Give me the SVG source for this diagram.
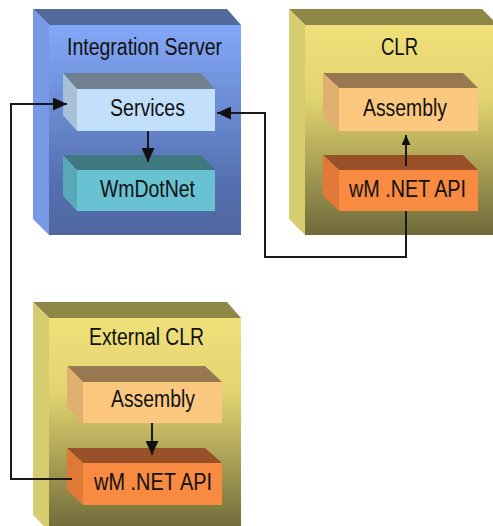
<svg xmlns="http://www.w3.org/2000/svg" width="493" height="526" viewBox="0 0 493 526">
<style>
  text { font-family: "Liberation Sans", Arial, sans-serif; font-size: 23px; fill: #111; text-anchor: middle; }
  .conn { fill: none; stroke: #1a1a1a; stroke-width: 2; }
  .isTop { fill: #52699b; } .isLeft { fill: #7898e6; }
  .clrTop { fill: #8e8848; } .clrLeft { fill: #d8cc70; }
  .svcTop { fill: #708090; } .svcLeft { fill: #a8c0d8; } .svcFront { fill: #c2e0fc; }
  .wdnTop { fill: #407880; } .wdnLeft { fill: #58a8b8; } .wdnFront { fill: #68c2d2; }
  .asmTop { fill: #987850; } .asmLeft { fill: #e0b070; } .asmFront { fill: #fcc880; }
  .apiTop { fill: #985028; } .apiLeft { fill: #e07838; } .apiFront { fill: #f88a42; }
</style>
<defs>
  <linearGradient id="gIS" x1="0" y1="0" x2="0" y2="1">
    <stop offset="0" stop-color="#84a8f8"/>
    <stop offset="0.75" stop-color="#5470b0"/>
    <stop offset="1" stop-color="#50679f"/>
  </linearGradient>
  <linearGradient id="gCLR" x1="0" y1="0" x2="0" y2="1">
    <stop offset="0" stop-color="#f0e07a"/>
    <stop offset="0.35" stop-color="#e2d470"/>
    <stop offset="1" stop-color="#6e6a3a"/>
  </linearGradient>
  <marker id="arr" markerUnits="userSpaceOnUse" markerWidth="14" markerHeight="13" refX="14" refY="6.5" orient="auto">
    <path d="M0,0 L14,6.5 L0,13 z" fill="#111"/>
  </marker>
  <marker id="arrS" markerUnits="userSpaceOnUse" markerWidth="10" markerHeight="9" refX="10" refY="4.5" orient="auto">
    <path d="M0,0 L10,4.5 L0,9 z" fill="#111"/>
  </marker>
</defs>

<g id="integration-server">
  <polygon class="isTop" points="33,9 227,9 241,25 49,25"/>
  <polygon class="isLeft" points="33,9 49,25 49,235 33,219"/>
  <rect x="49" y="25" width="192" height="210" fill="url(#gIS)"/>
  <text x="144.5" y="55" textLength="155" lengthAdjust="spacingAndGlyphs">Integration Server</text>
</g>
<g id="clr">
  <polygon class="clrTop" points="289,9 482,9 498,25 305,25"/>
  <polygon class="clrLeft" points="289,9 305,25 305,235 289,219"/>
  <rect x="305" y="25" width="193" height="210" fill="url(#gCLR)"/>
  <text x="399.5" y="55" textLength="37" lengthAdjust="spacingAndGlyphs">CLR</text>
</g>
<g id="external-clr">
  <polygon class="clrTop" points="33,302 227,302 241,318 49,318"/>
  <polygon class="clrLeft" points="33,302 49,318 49,531 33,515"/>
  <rect x="49" y="318" width="192" height="213" fill="url(#gCLR)"/>
  <text x="146.5" y="345" textLength="115" lengthAdjust="spacingAndGlyphs">External CLR</text>
</g>

<g id="services">
  <polygon class="svcTop" points="63,73 201,73 215,89 77,89"/>
  <polygon class="svcLeft" points="63,73 77,89 77,131 63,115"/>
  <rect class="svcFront" x="77" y="89" width="138" height="42"/>
  <text x="147.5" y="116" textLength="75" lengthAdjust="spacingAndGlyphs">Services</text>
</g>
<g id="wmdotnet">
  <polygon class="wdnTop" points="63,155 201,155 215,170 77,170"/>
  <polygon class="wdnLeft" points="63,155 77,170 77,211 63,196"/>
  <rect class="wdnFront" x="77" y="170" width="138" height="41"/>
  <text x="147.5" y="197" textLength="95" lengthAdjust="spacingAndGlyphs">WmDotNet</text>
</g>
<g id="clr-assembly">
  <polygon class="asmTop" points="323,73 463,73 478,88 339,88"/>
  <polygon class="asmLeft" points="323,73 339,88 339,131 323,116"/>
  <rect class="asmFront" x="339" y="88" width="139" height="43"/>
  <text x="405" y="116" textLength="84" lengthAdjust="spacingAndGlyphs">Assembly</text>
</g>
<g id="clr-api">
  <polygon class="apiTop" points="323,155 463,155 478,170 339,170"/>
  <polygon class="apiLeft" points="323,155 339,170 339,211 323,196"/>
  <rect class="apiFront" x="339" y="170" width="139" height="41"/>
  <text x="407.5" y="197" textLength="117" lengthAdjust="spacingAndGlyphs">wM .NET API</text>
</g>
<g id="ext-assembly">
  <polygon class="asmTop" points="67,366 205,366 222,382 83,382"/>
  <polygon class="asmLeft" points="67,366 83,382 83,423 67,407"/>
  <rect class="asmFront" x="83" y="382" width="139" height="41"/>
  <text x="153" y="407" textLength="84" lengthAdjust="spacingAndGlyphs">Assembly</text>
</g>
<g id="ext-api">
  <polygon class="apiTop" points="67,448 205,448 222,463 83,463"/>
  <polygon class="apiLeft" points="67,448 83,463 83,505 67,490"/>
  <rect class="apiFront" x="83" y="463" width="139" height="42"/>
  <text x="153" y="490" textLength="118" lengthAdjust="spacingAndGlyphs">wM .NET API</text>
</g>

<g id="connectors">
  <line class="conn" x1="148" y1="131" x2="148" y2="162" marker-end="url(#arr)"/>
  <line class="conn" x1="406" y1="166" x2="406" y2="135" marker-end="url(#arrS)"/>
  <polyline class="conn" points="406,211 406,257 265,257 265,113 217,113" marker-end="url(#arr)"/>
  <line class="conn" x1="152" y1="423" x2="152" y2="455" marker-end="url(#arr)"/>
  <polyline class="conn" points="72,479 11,479 11,104 67,104" marker-end="url(#arr)"/>
</g>
</svg>
